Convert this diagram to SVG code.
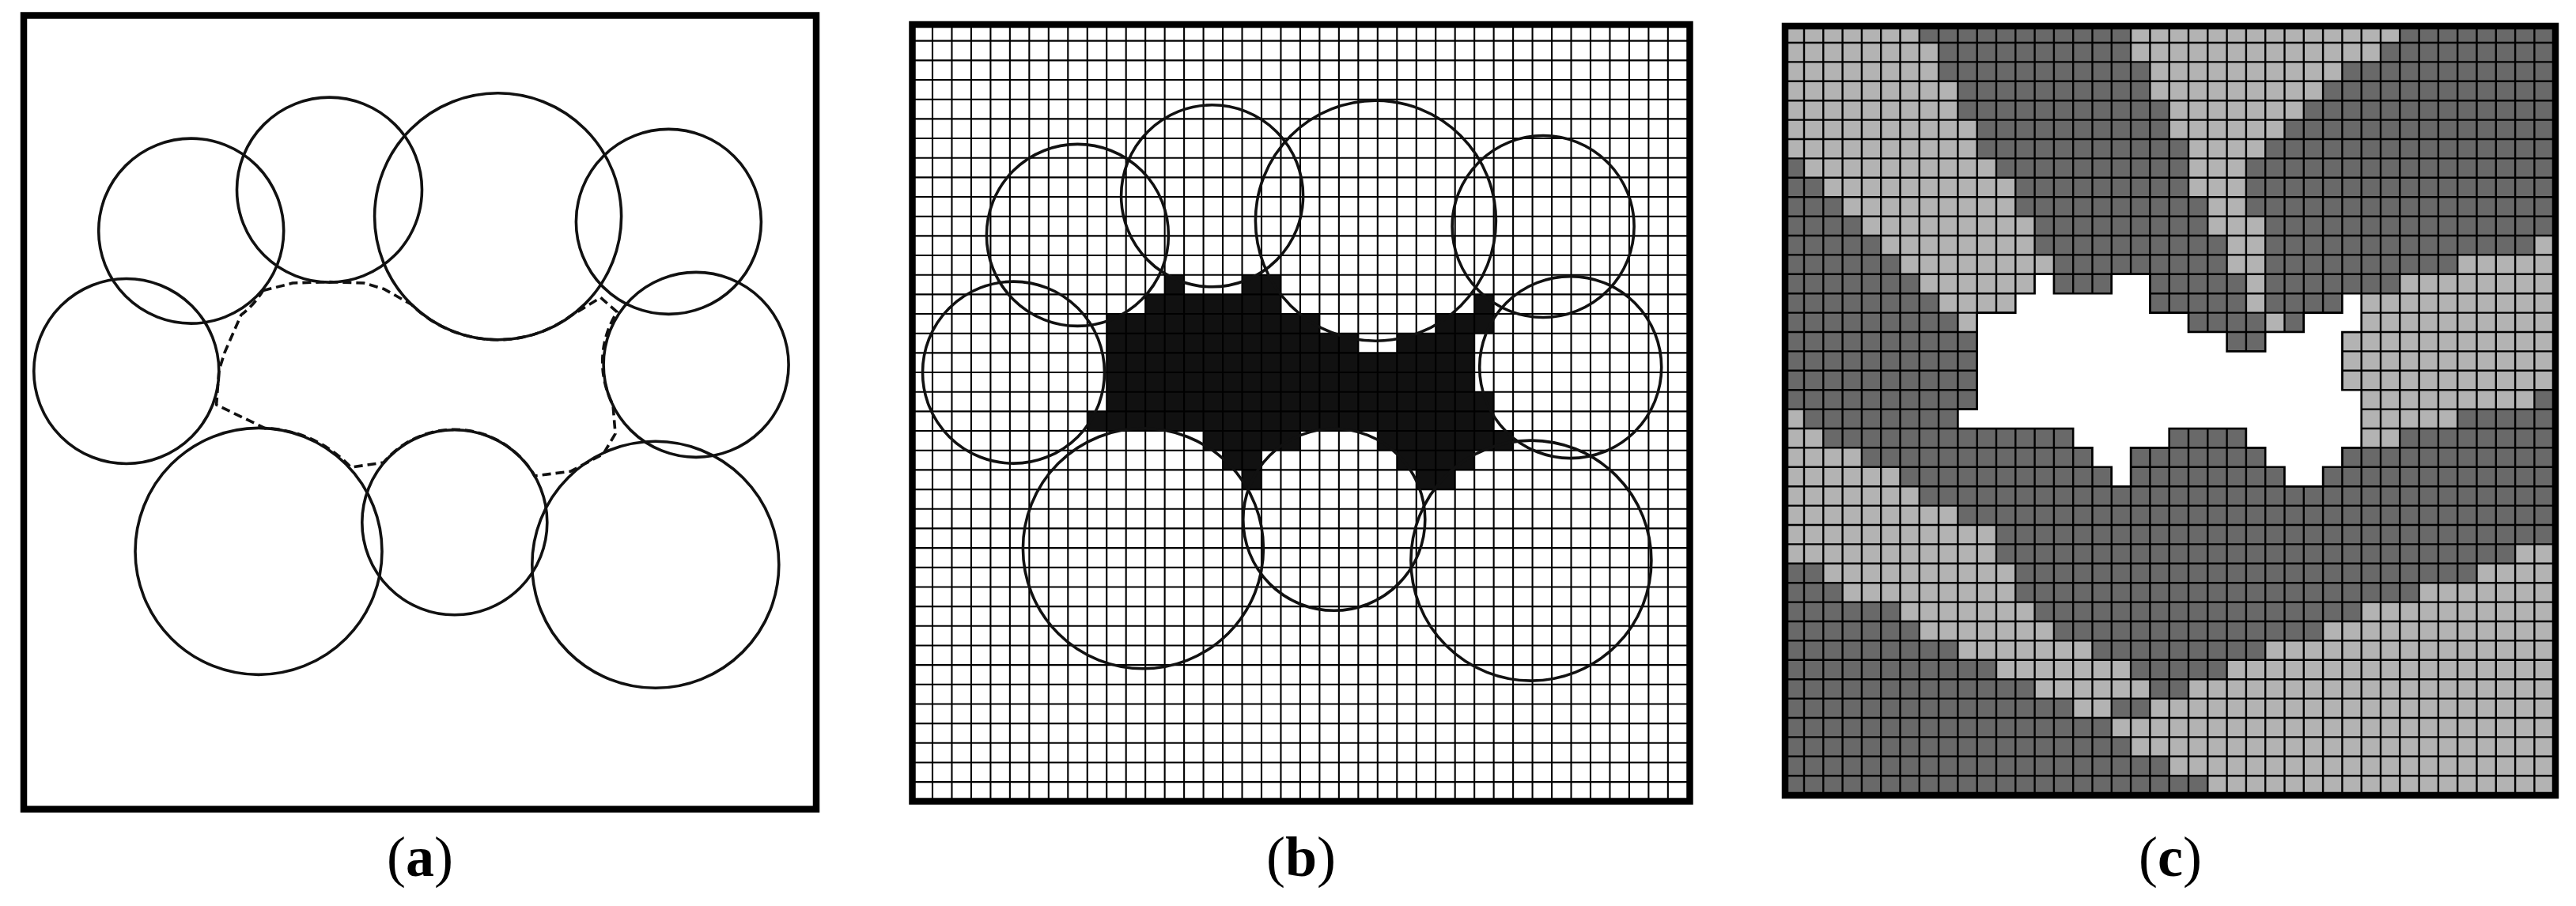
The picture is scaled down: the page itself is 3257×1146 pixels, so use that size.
<svg xmlns="http://www.w3.org/2000/svg" xmlns:xlink="http://www.w3.org/1999/xlink" width="3257" height="1146" viewBox="0 0 3257 1146">
<style>
.frame{fill:none;stroke:#000;stroke-width:8.5}
.circ{fill:none;stroke:#111;stroke-width:3.6}
.lbl{font-family:"Liberation Serif","DejaVu Serif",serif;font-size:72px;text-anchor:middle;fill:#000}
.L{fill:#b3b3b3}
</style>
<defs>
<path id="grid" vector-effect="non-scaling-stroke" fill="none" d="M0 1H40M0 2H40M0 3H40M0 4H40M0 5H40M0 6H40M0 7H40M0 8H40M0 9H40M0 10H40M0 11H40M0 12H40M0 13H40M0 14H40M0 15H40M0 16H40M0 17H40M0 18H40M0 19H40M0 20H40M0 21H40M0 22H40M0 23H40M0 24H40M0 25H40M0 26H40M0 27H40M0 28H40M0 29H40M0 30H40M0 31H40M0 32H40M0 33H40M0 34H40M0 35H40M0 36H40M0 37H40M0 38H40M0 39H40M1 0V40M2 0V40M3 0V40M4 0V40M5 0V40M6 0V40M7 0V40M8 0V40M9 0V40M10 0V40M11 0V40M12 0V40M13 0V40M14 0V40M15 0V40M16 0V40M17 0V40M18 0V40M19 0V40M20 0V40M21 0V40M22 0V40M23 0V40M24 0V40M25 0V40M26 0V40M27 0V40M28 0V40M29 0V40M30 0V40M31 0V40M32 0V40M33 0V40M34 0V40M35 0V40M36 0V40M37 0V40M38 0V40M39 0V40"/>
<polygon id="hole" vector-effect="non-scaling-stroke" points="13,13 14,13 14,14 17,14 17,13 19,13 19,15 21,15 21,16 23,16 23,17 25,17 25,16 27,16 27,15 29,15 29,14 30,14 30,16 29,16 29,19 30,19 30,22 29,22 29,23 28,23 28,24 26,24 26,23 25,23 25,22 24,22 24,21 20,21 20,22 18,22 18,24 17,24 17,23 16,23 16,22 15,22 15,21 9,21 9,20 10,20 10,15 12,15 12,14 13,14"/>
</defs>
<rect width="3257" height="1146" fill="#fff"/>

<g id="panel-a">
<g id="circles-a" class="circ">
<circle cx="241.7" cy="292.1" r="117"/>
<circle cx="416.5" cy="240.1" r="117"/>
<circle cx="629.6" cy="273.8" r="156"/>
<circle cx="845.4" cy="280.4" r="117"/>
<circle cx="159.8" cy="469.5" r="117"/>
<circle cx="880.1" cy="461.4" r="117"/>
<circle cx="327" cy="697.4" r="156"/>
<circle cx="574.8" cy="660.8" r="117"/>
<circle cx="828.8" cy="714.3" r="156"/>
</g>
<g id="connectors">
<path id="contour-a" fill="none" stroke="#111" stroke-width="3.6" stroke-dasharray="11 6" stroke-linejoin="round" d="M332.6 367.6 L370 358 L415.8 356.6 L460 358 L485.2 365.4 L520 385 A156 156 0 0 0 721 400 L759.4 376.4 L780.2 394.7 A117 117 0 0 0 775 512 L778 548.6 L762.8 574.3 L721.2 596.3 L676 602 A117 117 0 0 0 485 585 L443.6 591.1 A156 156 0 0 0 335 541.6 L273.6 512 L277 468 L284 446 L304.8 398.4 A117 117 0 0 0 332.6 367.6 Z"/>
</g>
<rect class="frame" x="30" y="19.5" width="1002" height="1004"/>
<text class="lbl" x="531" y="1108">(<tspan font-weight="bold">a</tspan>)</text>
</g>

<g id="panel-b">
<g transform="translate(1154.53,27) scale(24.47,24.67)">
<use xlink:href="#hole" href="#hole" fill="#111"/>
<rect x="30" y="21" width="1" height="1" fill="#111"/>
<use xlink:href="#grid" href="#grid" stroke="#000" stroke-width="2.1"/>
</g>
<g id="circles-b" class="circ">
<circle cx="1362.4" cy="297.4" r="115"/>
<circle cx="1532.6" cy="247.8" r="115"/>
<circle cx="1739.4" cy="279.2" r="152"/>
<circle cx="1951.1" cy="286.5" r="115"/>
<circle cx="1281.5" cy="471.1" r="115"/>
<circle cx="1985.7" cy="464.6" r="115"/>
<circle cx="1445.4" cy="693.8" r="152"/>
<circle cx="1686.8" cy="657.3" r="115"/>
<circle cx="1935.9" cy="709.1" r="152"/>
</g>
<rect class="frame" x="1153.5" y="31" width="983" height="982.5"/>
<text class="lbl" x="1645" y="1108">(<tspan font-weight="bold">b</tspan>)</text>
</g>

<g id="panel-c">
<g transform="translate(2256.7,29.6) scale(24.3,24.4)">
<rect x="0" y="0" width="40" height="40" fill="#696969"/>
<g class="L">
<rect x="0" y="0" width="7" height="1"/><rect x="18" y="0" width="14" height="1"/>
<rect x="0" y="1" width="8" height="1"/><rect x="18" y="1" width="13" height="1"/>
<rect x="0" y="2" width="8" height="1"/><rect x="19" y="2" width="10" height="1"/>
<rect x="0" y="3" width="9" height="1"/><rect x="19" y="3" width="9" height="1"/>
<rect x="0" y="4" width="9" height="1"/><rect x="20" y="4" width="7" height="1"/>
<rect x="0" y="5" width="10" height="1"/><rect x="20" y="5" width="6" height="1"/>
<rect x="0" y="6" width="10" height="1"/><rect x="21" y="6" width="4" height="1"/>
<rect x="1" y="7" width="10" height="1"/><rect x="21" y="7" width="3" height="1"/>
<rect x="2" y="8" width="10" height="1"/><rect x="21" y="8" width="3" height="1"/>
<rect x="3" y="9" width="9" height="1"/><rect x="22" y="9" width="2" height="1"/>
<rect x="4" y="10" width="9" height="1"/><rect x="22" y="10" width="3" height="1"/>
<rect x="5" y="11" width="8" height="1"/><rect x="23" y="11" width="2" height="1"/><rect x="39" y="11" width="1" height="1"/>
<rect x="6" y="12" width="8" height="1"/><rect x="23" y="12" width="2" height="1"/><rect x="35" y="12" width="5" height="1"/>
<rect x="7" y="13" width="6" height="1"/><rect x="24" y="13" width="1" height="1"/><rect x="32" y="13" width="8" height="1"/>
<rect x="8" y="14" width="4" height="1"/><rect x="24" y="14" width="1" height="1"/><rect x="30" y="14" width="10" height="1"/>
<rect x="9" y="15" width="1" height="1"/><rect x="25" y="15" width="1" height="1"/><rect x="30" y="15" width="10" height="1"/>
<rect x="29" y="16" width="11" height="3"/>
<rect x="30" y="19" width="9" height="1"/>
<rect x="0" y="20" width="1" height="1"/><rect x="30" y="20" width="5" height="1"/>
<rect x="0" y="21" width="2" height="1"/><rect x="30" y="21" width="2" height="1"/>
<rect x="0" y="22" width="4" height="1"/>
<rect x="0" y="23" width="6" height="1"/>
<rect x="0" y="24" width="7" height="1"/>
<rect x="0" y="25" width="9" height="1"/>
<rect x="0" y="26" width="11" height="2"/><rect x="38" y="27" width="2" height="1"/>
<rect x="2" y="28" width="10" height="1"/><rect x="36" y="28" width="4" height="1"/>
<rect x="3" y="29" width="9" height="1"/><rect x="33" y="29" width="7" height="1"/>
<rect x="6" y="30" width="7" height="1"/><rect x="30" y="30" width="10" height="1"/>
<rect x="7" y="31" width="7" height="1"/><rect x="28" y="31" width="12" height="1"/>
<rect x="9" y="32" width="7" height="1"/><rect x="25" y="32" width="15" height="1"/>
<rect x="11" y="33" width="7" height="1"/><rect x="23" y="33" width="17" height="1"/>
<rect x="13" y="34" width="6" height="1"/><rect x="21" y="34" width="19" height="1"/>
<rect x="15" y="35" width="2" height="1"/><rect x="19" y="35" width="21" height="1"/>
<rect x="17" y="36" width="23" height="1"/>
<rect x="18" y="37" width="22" height="1"/>
<rect x="20" y="38" width="20" height="1"/>
<rect x="22" y="39" width="18" height="1"/>
</g>
<use xlink:href="#grid" href="#grid" stroke="#000" stroke-width="2.4"/>
<use xlink:href="#hole" href="#hole" fill="#fff" stroke="#000" stroke-width="2.6"/>
</g>
<rect class="frame" x="2257" y="33" width="974" height="973"/>
<text class="lbl" x="2744" y="1108">(<tspan font-weight="bold">c</tspan>)</text>
</g>
</svg>
